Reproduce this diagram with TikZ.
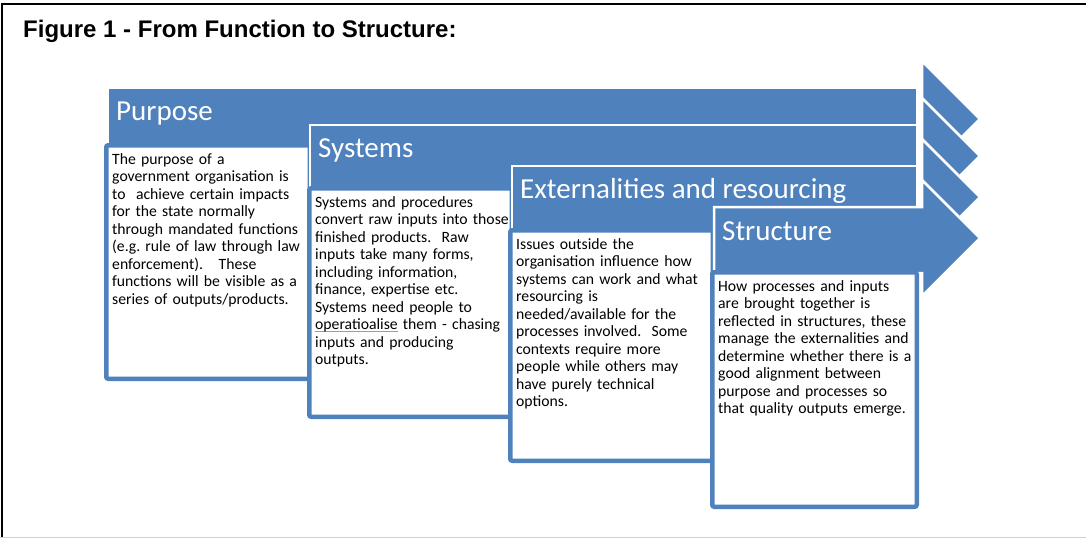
\documentclass[tikz,border=0pt]{standalone}
\usepackage{fontspec}
\setmainfont{Carlito}
\newfontfamily\titlefont{Liberation Sans}
\usepackage{xcolor}
\usepackage{tikz}
\usetikzlibrary{calc, positioning}

\definecolor{stageblue}{RGB}{79,129,189}

%% red spell-check line under a word
\newcommand{\spellmark}[1]{\leavevmode\setbox0\hbox{#1}%
  \rlap{\color{red!55}\rule[-2pt]{\wd0}{0.6pt}}\box0\relax}

\tikzset{
  %% Blue band of a stage
  stagebar/.style={
    fill=stageblue, draw=white, line width=2.5pt
  },
  %% Arrow head at the right end
  stagehead/.style={
    fill=stageblue, draw=white, line width=2.5pt,
    line join=miter
  },
  %% White box below each band
  textbox/.style={
    rectangle, rounded corners=2pt,
    draw=stageblue, fill=white, line width=4.5pt,
    anchor=north west, inner sep=0pt, outer sep=0pt
  },
  %% Stage title on the band
  headlabel/.style={
    anchor=base west, inner sep=0pt, text=white,
    font=\fontsize{29}{34}\selectfont
  },
  %% Body text in the box
  bodytext/.style={
    anchor=base west, inner sep=0pt, text width=200pt,
    align=left, font=\fontsize{15.7}{17.5}\selectfont\frenchspacing
  },
}

\begin{document}
\begin{tikzpicture}[x=1pt, y=-1pt]

  \useasboundingbox (0,0) rectangle (1086,538);

  %% Page frame
  \draw[black, line width=2.2pt] (1.7,538) -- (1.7,3.6) -- (1086,3.6);
  \draw[black!18, line width=1pt] (0,537) -- (1086,537);

  %% Heading
  \node[anchor=base west, inner sep=0pt,
        font=\titlefont\bfseries\fontsize{24}{29}\selectfont] (title)
    at (23,37) {Figure 1 - From Function to Structure:};

  %% Purpose
  \draw[stagebar] (108,88) rectangle (917,146);
  \draw[stagehead] (922,61) -- (980,119) -- (922,177) -- cycle;
  \node[headlabel] (purpose) at (116,120) {Purpose};
  \node[textbox, minimum width=203.5pt, minimum height=233.5pt]
    (purposebox) at (106.25,145.25) {};
  \node[bodytext] (purposetext) at ($(purposebox.north west)+(5.75,18.75)$)
    {The purpose of a\\
     government organisation is\\
     to\ \ achieve certain impacts\\
     for the state normally\\
     through mandated functions\\
     (e.g. rule of law through law\\
     enforcement).\quad These\\
     functions will be visible as a\\
     series of outputs/products.};

  %% Systems
  \draw[stagebar] (310,125) rectangle (917,189);
  \draw[stagehead] (922,98) -- (980,156) -- (922,214) -- cycle;
  \node[headlabel] (systems) at (318,157) {Systems};
  \node[textbox, minimum width=202.5pt, minimum height=228.5pt]
    (systemsbox) at (309.25,188.25) {};
  \node[bodytext] (systemstext) at ($(systemsbox.north west)+(5.75,18.75)$)
    {Systems and procedures\\
     convert raw inputs into those\\
     finished products.\ \ Raw\\
     inputs take many forms,\\
     including information,\\
     finance, expertise etc.\\
     Systems need people to\\
     \spellmark{operatioalise} them - chasing\\
     inputs and producing\\
     outputs.};

  %% Externalities and resourcing
  \draw[stagebar] (512,166) rectangle (917,231);
  \draw[stagehead] (922,139) -- (980,197) -- (922,255) -- cycle;
  \node[headlabel] (extern) at (520,198) {Externalities and resourcing};
  \node[textbox, minimum width=202.5pt, minimum height=230.5pt]
    (externbox) at (510.25,230.25) {};
  \node[bodytext] (externtext) at ($(externbox.north west)+(5.75,18.75)$)
    {Issues outside the\\
     organisation influence how\\
     systems can work and what\\
     resourcing is\\
     needed/available for the\\
     processes involved.\ \ Some\\
     contexts require more\\
     people while others may\\
     have purely technical\\
     options.};

  %% Structure (band and head in one piece)
  \draw[stagehead] (714,207) -- (922,207) -- (922,180) -- (980,238)
    -- (922,296) -- (922,273) -- (714,273) -- cycle;
  \node[headlabel] (structure) at (722,240) {Structure};
  \node[textbox, minimum width=204.5pt, minimum height=234.5pt]
    (structurebox) at (712.25,272.25) {};
  \node[bodytext] (structuretext) at ($(structurebox.north west)+(5.75,18.75)$)
    {How processes and inputs\\
     are brought together is\\
     reflected in structures, these\\
     manage the externalities and\\
     determine whether there is a\\
     good alignment between\\
     purpose and processes so\\
     that quality outputs emerge.};

\end{tikzpicture}
\end{document}
